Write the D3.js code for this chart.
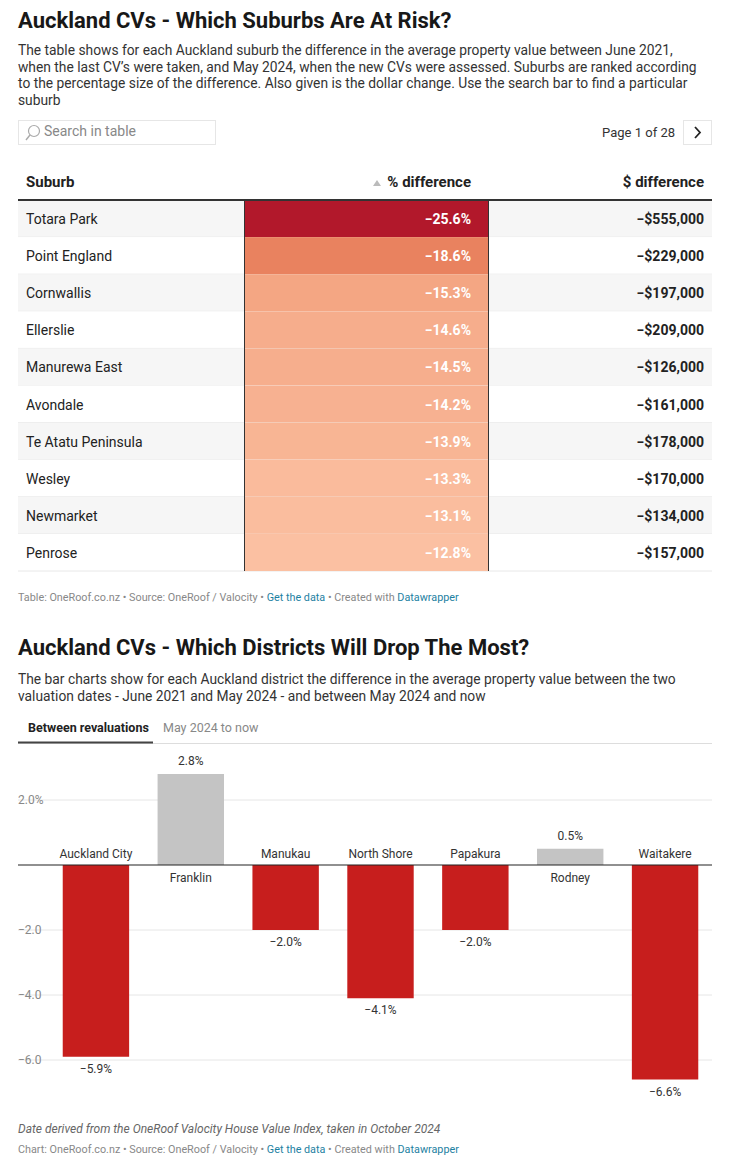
<!DOCTYPE html>
<html><head><meta charset="utf-8">
<script src="https://cdn.jsdelivr.net/npm/d3@7"></script>
<style>
body{margin:0;background:#fff;font-family:Roboto,sans-serif;}
svg text{font-family:Roboto,sans-serif;}
</style></head>
<body><svg id="c" width="750" height="1169"></svg>
<script>
// Table data
const suburbs = ['Totara Park','Point England','Cornwallis','Ellerslie','Manurewa East','Avondale','Te Atatu Peninsula','Wesley','Newmarket','Penrose'];
const pctDiff = [-25.6,-18.6,-15.3,-14.6,-14.5,-14.2,-13.9,-13.3,-13.1,-12.8];
const dollarDiff = [-555000,-229000,-197000,-209000,-126000,-161000,-178000,-170000,-134000,-157000];

// Bar chart data
const districts = ['Auckland City','Franklin','Manukau','North Shore','Papakura','Rodney','Waitakere'];
const districtChange = [-5.9,2.8,-2.0,-4.1,-2.0,0.5,-6.6];
const yTicks = [2,-2,-4,-6];

const svg = d3.select('#c');
const minus = s => s.replace('-', '\u2212');

function text(x, y, str, o = {}) {
    return svg.append('text').attr('x', x).attr('y', y).text(str)
        .attr('font-size', o.size || 14).attr('fill', o.fill || '#333')
        .attr('font-weight', o.weight || 400).attr('text-anchor', o.anchor || 'start')
        .attr('font-style', o.style || 'normal');
}

// Header 1
text(18, 28, 'Auckland CVs - Which Suburbs Are At Risk?', {size: 22, weight: 700, fill: '#181818'});
['The table shows for each Auckland suburb the difference in the average property value between June 2021,',
 'when the last CV\u2019s were taken, and May 2024, when the new CVs were assessed. Suburbs are ranked according',
 'to the percentage size of the difference. Also given is the dollar change. Use the search bar to find a particular',
 'suburb'].forEach((l, i) => text(18, 55 + i * 16.5, l, {size: 13.8, fill: '#333'}));

// Search box & pagination
svg.append('rect').attr('x', 18.5).attr('y', 120.5).attr('width', 197).attr('height', 24).attr('fill', '#fff').attr('stroke', '#e6e6e6');
svg.append('circle').attr('cx', 34).attr('cy', 131).attr('r', 5.5).attr('fill', 'none').attr('stroke', '#aaa').attr('stroke-width', 1.2);
svg.append('line').attr('x1', 30).attr('y1', 135).attr('x2', 26).attr('y2', 140).attr('stroke', '#aaa').attr('stroke-width', 1.4);
text(44, 136, 'Search in table', {size: 14, fill: '#888'});
text(675, 137, 'Page 1 of 28', {size: 13, anchor: 'end'});
svg.append('rect').attr('x', 683.5).attr('y', 120.5).attr('width', 28).attr('height', 24).attr('fill', '#fff').attr('stroke', '#e6e6e6');
svg.append('path').attr('d', 'M695,127 L700,132.5 L695,138').attr('fill', 'none').attr('stroke', '#222').attr('stroke-width', 1.8);

// Table
const rowH = 37.1, tableTop = 200;
const yRow = d3.scaleBand().domain(suburbs).range([tableTop, tableTop + rowH * suburbs.length]);
const color = d3.scaleLinear().domain([-25.6, -18.6, -15.3, -12.8]).range(['#b2182b', '#e9825f', '#f4a683', '#fbc0a2']);

text(26, 187, 'Suburb', {size: 15, weight: 700, fill: '#222'});
svg.append('path').attr('d', 'M373,186 L377,180 L381,186Z').attr('fill', '#bbb');
text(471, 187, '% difference', {size: 15, weight: 700, fill: '#222', anchor: 'end'});
text(704, 187, '$ difference', {size: 15, weight: 700, fill: '#222', anchor: 'end'});

suburbs.forEach((s, i) => {
    const y = yRow(s);
    svg.append('rect').attr('x', 18).attr('y', y).attr('width', 694).attr('height', rowH)
        .attr('fill', i % 2 === 0 ? '#f6f6f6' : '#fff');
    svg.append('line').attr('x1', 18).attr('x2', 712).attr('y1', y + rowH).attr('y2', y + rowH).attr('stroke', '#e8e8e8');
    svg.append('rect').attr('x', 244).attr('y', y).attr('width', 245).attr('height', rowH).attr('fill', color(pctDiff[i]));
    text(26, y + 24, s, {size: 14, fill: '#222'});
    text(471, y + 24, minus(pctDiff[i].toFixed(1) + '%'), {size: 14, weight: 700, fill: '#fff', anchor: 'end'});
    text(704, y + 24, '\u2212$' + d3.format(',')(-dollarDiff[i]), {size: 14, weight: 700, fill: '#222', anchor: 'end'});
});
svg.append('line').attr('x1', 244.5).attr('x2', 244.5).attr('y1', tableTop).attr('y2', tableTop + rowH * 10).attr('stroke', '#333');
svg.append('line').attr('x1', 488.5).attr('x2', 488.5).attr('y1', tableTop).attr('y2', tableTop + rowH * 10).attr('stroke', '#333');
svg.append('line').attr('x1', 18).attr('x2', 712).attr('y1', tableTop).attr('y2', tableTop).attr('stroke', '#333').attr('stroke-width', 2);

function footer(y, label) {
    const t = svg.append('text').attr('x', 18).attr('y', y).attr('font-size', 10.8).attr('fill', '#888');
    t.append('tspan').text(label + ' OneRoof.co.nz \u2022 Source: OneRoof / Valocity \u2022 ');
    t.append('tspan').attr('fill', '#1d81a2').text('Get the data');
    t.append('tspan').text(' \u2022 Created with ');
    t.append('tspan').attr('fill', '#1d81a2').text('Datawrapper');
}
footer(601, 'Table:');

// Header 2
text(18, 655, 'Auckland CVs - Which Districts Will Drop The Most?', {size: 22, weight: 700, fill: '#181818'});
['The bar charts show for each Auckland district the difference in the average property value between the two',
 'valuation dates - June 2021 and May 2024 - and between May 2024 and now'].forEach((l, i) => text(18, 684 + i * 16.5, l, {size: 13.8, fill: '#333'}));

// Tabs
text(28, 732, 'Between revaluations', {size: 12.5, weight: 700, fill: '#222'});
text(163, 732, 'May 2024 to now', {size: 12.5, fill: '#888'});
svg.append('line').attr('x1', 18).attr('x2', 712).attr('y1', 743.5).attr('y2', 743.5).attr('stroke', '#ddd');
svg.append('line').attr('x1', 18).attr('x2', 153).attr('y1', 742.5).attr('y2', 742.5).attr('stroke', '#444').attr('stroke-width', 2);

// Bar chart
const x = d3.scaleBand().domain(districts).range([48.5, 712.5]).paddingInner(0.3).paddingOuter(0.15);
const y = d3.scaleLinear().domain([0, 2]).range([865, 800]);

const g = svg.append('g');
g.selectAll('.grid').data(yTicks).enter().append('line')
    .attr('x1', 18).attr('x2', 712).attr('y1', d => y(d)).attr('y2', d => y(d)).attr('stroke', '#e6e6e6');
g.selectAll('.tick').data(yTicks).enter().append('text')
    .attr('x', 18).attr('y', d => y(d) + 4).attr('font-size', 12).attr('fill', '#888')
    .text(d => minus(d.toFixed(1) + (d === 2 ? '%' : '')));

g.selectAll('.bar').data(districts).enter().append('rect')
    .attr('x', d => x(d)).attr('width', x.bandwidth())
    .attr('y', (d, i) => y(Math.max(0, districtChange[i])))
    .attr('height', (d, i) => Math.abs(y(districtChange[i]) - y(0)))
    .attr('fill', (d, i) => districtChange[i] < 0 ? '#c71e1d' : '#c4c4c4');

districts.forEach((d, i) => {
    const v = districtChange[i], cx = x(d) + x.bandwidth() / 2;
    text(cx, v < 0 ? 858 : 882, d, {size: 12, anchor: 'middle'});
    text(cx, v < 0 ? y(v) + 16 : y(v) - 9, minus(v.toFixed(1) + '%'), {size: 12, anchor: 'middle'});
});
svg.append('line').attr('x1', 18).attr('x2', 712).attr('y1', y(0)).attr('y2', y(0)).attr('stroke', '#222').attr('stroke-width', 1.2);

text(18, 1133, 'Date derived from the OneRoof Valocity House Value Index, taken in October 2024', {size: 12, style: 'italic', fill: '#666'});
footer(1153, 'Chart:');
</script></body></html>
